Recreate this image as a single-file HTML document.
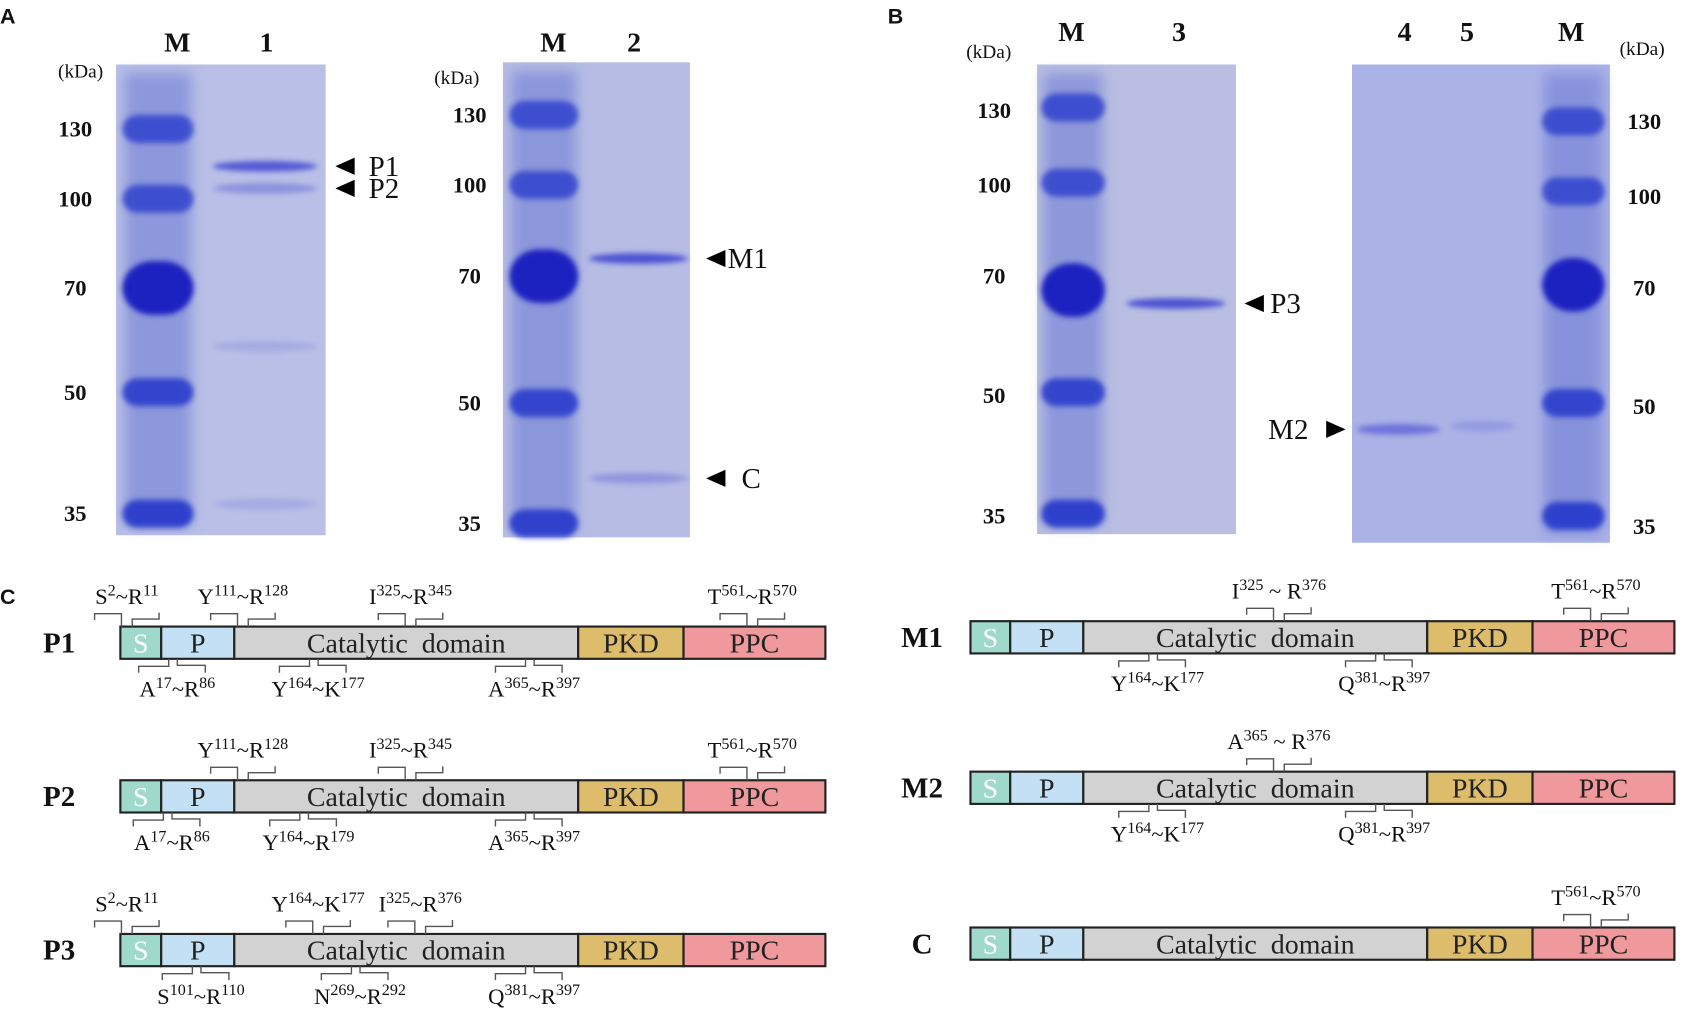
<!DOCTYPE html>
<html><head><meta charset="utf-8">
<style>
html,body{margin:0;padding:0;background:#fff;width:1683px;height:1021px;overflow:hidden}
svg{display:block}
text{font-family:"Liberation Serif",serif;fill:#111;white-space:pre}
.b{font-weight:bold}
.pl{font-family:"Liberation Sans",sans-serif;font-weight:bold;font-size:20px}
</style></head>
<body>
<svg id="fig" width="1683" height="1021" viewBox="0 0 1566 950" preserveAspectRatio="none" xmlns="http://www.w3.org/2000/svg">
<defs>
<filter id="blur" x="-30%" y="-100%" width="160%" height="300%"><feGaussianBlur stdDeviation="2.5"/></filter>
<filter id="blur2" x="-30%" y="-30%" width="160%" height="160%"><feGaussianBlur stdDeviation="6"/></filter>
</defs>
<g id="gels"></g>
<g id="domains"></g>
</svg>
<script>
const NS='http://www.w3.org/2000/svg';
function el(tag,attrs,parent,txt){const e=document.createElementNS(NS,tag);for(const k in attrs)e.setAttribute(k,attrs[k]);if(txt!==undefined)e.textContent=txt;parent.appendChild(e);return e;}

// ---- Gel data ----
const ladderKda=[130,100,70,50,35];
const ladderTickLabels=['130','100','70','50','35'];
const gelA1Samples=[113,104,58,36];
const gelA1Intensity=[0.8,0.35,0.15,0.15];
const gelA2Samples=[75,40];
const gelA2Intensity=[0.85,0.3];
const gelB1Samples=[67];
const gelB1Intensity=[0.85];
const gelB2Lane4=[46];
const gelB2Lane4Int=[0.55];
const gelB2Lane5=[46.5];
const gelB2Lane5Int=[0.2];
const markerIntensity=[0.8,0.8,1,0.9,0.95];

const gels=[
 {name:'gel-a1',x:108,y:60,w:195,h:438,bg:'#b9bfe6',mk:[112,182],tk:[120,185,268,365,478],tx:70,anchor:'middle',kx:75,ky:72,
  lanes:[{x:[198,295],kda:gelA1Samples,int:gelA1Intensity,label:'1',lx:248}],mlx:165,ly:48,
  arrows:[{kda:113,tx:312,dir:'left',label:'P1',lbx:343},{kda:104,tx:312,dir:'left',label:'P2',lbx:343}]},
 {name:'gel-a2',x:468,y:58,w:174,h:442,bg:'#b6bce4',mk:[472,540],tk:[107,172,257,375,487],tx:437,anchor:'middle',kx:425,ky:78,
  lanes:[{x:[548,640],kda:gelA2Samples,int:gelA2Intensity,label:'2',lx:590}],mlx:515,ly:48,
  arrows:[{kda:75,tx:657,dir:'left',label:'M1',lbx:677},{kda:40,tx:657,dir:'left',label:'C',lbx:690}]},
 {name:'gel-b1',x:965,y:60,w:185,h:437,bg:'#b9bee2',mk:[967,1030],tk:[100,170,270,365,478],tx:925,anchor:'middle',kx:920,ky:54,
  lanes:[{x:[1048,1140],kda:gelB1Samples,int:gelB1Intensity,label:'3',lx:1097}],mlx:997,ly:38,
  arrows:[{kda:67,tx:1158,dir:'left',label:'P3',lbx:1182}]},
 {name:'gel-b2',x:1258,y:60,w:240,h:445,bg:'#abb2e6',mk:[1433,1495],tk:[113,178,265,375,480],tx:1530,anchor:'middle',kx:1528,ky:51,
  lanes:[{x:[1262,1340],kda:gelB2Lane4,int:gelB2Lane4Int,label:'4',lx:1307},{x:[1350,1410],kda:gelB2Lane5,int:gelB2Lane5Int,label:'5',lx:1365}],mlx:1462,ly:38,
  arrows:[{kda:46,tx:1252,dir:'right',label:'M2',lbx:1180}]}
];
const tickY={'gel-a1':[120,185,268,365,478],'gel-a2':[107,172,257,375,487],'gel-b1':[103,172,257,368,480],'gel-b2':[113,183,268,378,490]};

function yScale(g,kda){
  const L=ladderKda.map(Math.log),v=Math.log(kda),t=g.tk;
  for(let i=0;i<L.length-1;i++){ if(v<=L[i]&&v>=L[i+1]) return t[i]+(t[i+1]-t[i])*(L[i]-v)/(L[i]-L[i+1]); }
  if(v>L[0]) return t[0]-(v-L[0])/(L[0]-L[1])*(t[1]-t[0]);
  const n=L.length-1; return t[n]+(L[n]-v)/(L[n-1]-L[n])*(t[n]-t[n-1]);
}
const G=document.getElementById('gels');
const root=document.getElementById('fig');
[['A',0,22],['B',826,22],['C',0,562]].forEach(p=>{const t=el('text',{x:p[1],y:p[2],class:'pl'},root,p[0]);
 
 });

gels.forEach(g=>{
 const grp=el('g',{},G);
 
 
 el('rect',{x:g.x,y:g.y,width:g.w,height:g.h,fill:g.bg},grp);
 el('rect',{x:g.mk[0]+4,y:g.y+8,width:g.mk[1]-g.mk[0]-8,height:g.h-16,fill:'#6f7ed6',opacity:0.6,filter:'url(#blur2)'},grp);
 const cx=(g.mk[0]+g.mk[1])/2, rw=(g.mk[1]-g.mk[0])/2;
 ladderKda.forEach((k,i)=>{
  const y=yScale(g,k); const big=(k===70);
  const b=el('rect',{x:cx-rw+2,y:y-(big?25:13),width:2*rw-4,height:big?50:26,rx:big?28:14,fill:big?'#1a22c0':'#2a3ccc',opacity:markerIntensity[i],filter:'url(#blur)'},grp);
  
  
 });
 g.lanes.forEach(l=>{
  l.kda.forEach((k,i)=>{
   const y=yScale(g,k);
   const b=el('ellipse',{cx:(l.x[0]+l.x[1])/2,cy:y,rx:(l.x[1]-l.x[0])/2,ry:5,fill:'#3a40d0',opacity:l.int[i],filter:'url(#blur)'},grp);
   
   
  });
  const t=el('text',{x:l.lx,y:g.ly,'text-anchor':'middle','font-size':26,class:'b'},grp,l.label);
  
  
 });
 const m=el('text',{x:g.mlx,y:g.ly,'text-anchor':'middle','font-size':26,class:'b'},grp,'M');
 
 
 const kd=el('text',{x:g.kx,y:g.ky,'text-anchor':'middle','font-size':18},grp,'(kDa)');
 
 
 ladderTickLabels.forEach((lab,i)=>{
  const t=el('text',{x:g.tx,y:tickY[g.name][i]+7,'text-anchor':g.anchor,'font-size':21,class:'b'},grp,lab);
  
  
 });
 g.arrows.forEach(a=>{
  const y=yScale(g,a.kda);
  const pts=a.dir==='left'?`${a.tx},${y} ${a.tx+18},${y-8} ${a.tx+18},${y+8}`:`${a.tx},${y} ${a.tx-18},${y-8} ${a.tx-18},${y+8}`;
  const p=el('polygon',{points:pts,fill:'#000'},grp);
  
  
  const t=el('text',{x:a.lbx,y:y+9,'font-size':27},grp,a.label);
  
  
 });
});

// ---- Domain diagrams ----
const D=document.getElementById('domains');
const segL=[112,150,218,538,636,768], segR=[903,940,1008,1328,1426,1558];
const segNames=['S','P','Catalytic  domain','PKD','PPC'];
const segFill=['#9fd9cc','#c3e0f5','#d3d2d3','#ddbd6c','#f0999d'];
const constructs=[
 {n:'P1',segs:segL,top:583,lx:55,
  above:[['S','2','R','11',118],['Y','111','R','128',226],['I','325','R','345',382],['T','561','R','570',700]],
  below:[['A','17','R','86',165],['Y','164','K','177',296],['A','365','R','397',497]]},
 {n:'P2',segs:segL,top:726,lx:55,
  above:[['Y','111','R','128',226],['I','325','R','345',382],['T','561','R','570',700]],
  below:[['A','17','R','86',160],['Y','164','R','179',287],['A','365','R','397',497]]},
 {n:'P3',segs:segL,top:869,lx:55,
  above:[['S','2','R','11',118],['Y','164','K','177',296],['I','325','R','376',391]],
  below:[['S','101','R','110',187],['N','269','R','292',335],['Q','381','R','397',497]]},
 {n:'M1',segs:segR,top:578,lx:858,
  above:[['I','325','R','376',1190,true],['T','561','R','570',1485]],
  below:[['Y','164','K','177',1077],['Q','381','R','397',1288]]},
 {n:'M2',segs:segR,top:718,lx:858,
  above:[['A','365','R','376',1190,true]],
  below:[['Y','164','K','177',1077],['Q','381','R','397',1288]]},
 {n:'C',segs:segR,top:863,lx:858,above:[['T','561','R','570',1485]],below:[]}
];
function label(parent,a,y){
 const t=el('text',{x:a[4],y:y,'text-anchor':'middle','font-size':21},parent);
 el('tspan',{},t,a[0]);
 el('tspan',{'font-size':15,dy:-8},t,a[1]);
 el('tspan',{'font-size':21,dy:8},t,a[5]?' ~ ':'~');
 el('tspan',{},t,a[2]);
 el('tspan',{'font-size':15,dy:-8},t,a[3]);
 return t;
}
constructs.forEach(c=>{
 const g=el('g',{},D);
 
 
 const h=30, top=c.top, bot=top+h;
 for(let i=0;i<5;i++){
  const r=el('rect',{x:c.segs[i],y:top,width:c.segs[i+1]-c.segs[i],height:h,fill:segFill[i],stroke:'#222','stroke-width':2},g);
  
  
  const t=el('text',{x:(c.segs[i]+c.segs[i+1])/2,y:top+24,'text-anchor':'middle','font-size':26},g,segNames[i]);
  t.style.fill=i===0?'#ffffff':'#222';
 }
 const n=el('text',{x:c.lx,y:top+24,'text-anchor':'middle','font-size':27,class:'b'},g,c.n);
 
 
 c.above.forEach(a=>{
  const t=label(g,a,top-21);
  
  
  const x=a[4], x1=x-30, x2=x+30;
  el('path',{d:`M${x1} ${top-6} V${top-12} H${x-5} V${top} M${x+5} ${top} V${top-7} H${x2} V${top-13}`,fill:'none',stroke:'#555','stroke-width':1.3},g);
 });
 c.below.forEach(a=>{
  const t=label(g,a,bot+35);
  
  
  const x=a[4]-4, x1=x-32, x2=x+30;
  el('path',{d:`M${x1} ${bot+13} V${bot+7} H${x-4} V${bot} M${x+4} ${bot} V${bot+6} H${x2} V${bot+13}`,fill:'none',stroke:'#555','stroke-width':1.3},g);
 });
});
</script>
</body></html>
